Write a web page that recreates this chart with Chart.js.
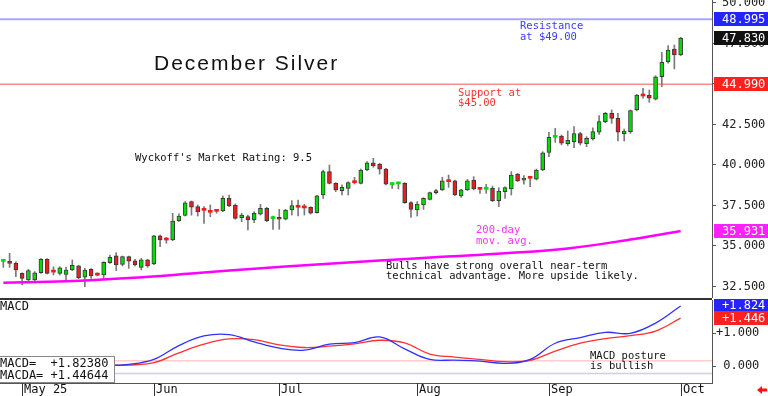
<!DOCTYPE html>
<html>
<head>
<meta charset="utf-8">
<script src="https://cdn.jsdelivr.net/npm/chart.js@4.4.1/dist/chart.umd.min.js"></script>
<style>
  html, body { margin: 0; background: #fff; }
  #wrap { position: relative; width: 768px; height: 396px; overflow: hidden; }
  canvas { position: absolute; left: 0; }
</style>
</head>
<body>
<div id="wrap">
  <canvas id="price" width="768" height="298" style="top:0"></canvas>
  <canvas id="macd" width="768" height="98" style="top:298px"></canvas>
</div>
<script>
// daily bars, Apr 28 .. Oct 1 (index = trading day)
const opens = [34.05, 34.07, 33.93, 33.31, 32.9, 32.9, 33.35, 34.18, 33.43, 33.31,
  33.25, 33.52, 33.77, 33.07, 33.56, 33.27, 33.21, 33.97, 34.4, 33.87,
  34.34, 34.09, 33.68, 34.14, 33.89, 35.62, 35.47, 35.37, 36.56, 36.89,
  37.74, 37.43, 37.25, 37.16, 37.18, 37.16, 37.94, 37.53, 36.75, 36.81,
  36.61, 36.97, 37.33, 36.69, 36.77, 36.65, 37.22, 37.45, 37.41, 37.39,
  37.06, 38.15, 39.59, 38.87, 38.42, 38.56, 38.95, 38.87, 39.69, 40.14,
  40.06, 39.75, 38.79, 38.83, 38.87, 37.68, 37.22, 37.53, 37.88, 38.29,
  38.46, 39.07, 39.03, 38.09, 38.46, 39.07, 38.54, 38.5, 38.56, 37.8,
  38.35, 38.52, 39.44, 39.07, 39.22, 39.13, 39.69, 40.78, 41.71, 41.79,
  41.32, 41.44, 41.94, 41.32, 41.61, 42.02, 42.68, 43.19, 42.88, 41.94,
  42.06, 43.4, 44.32, 44.3, 44.07, 45.45, 46.38, 47.16, 46.79];
const highs = [34.18, 34.55, 34.03, 33.35, 33.56, 33.42, 34.22, 34.22, 33.72, 33.72,
  33.68, 34.14, 33.81, 33.62, 33.6, 33.35, 34.03, 34.44, 34.59, 34.38,
  34.38, 34.18, 34.24, 34.18, 35.66, 35.68, 35.53, 37.02, 36.98, 37.74,
  37.78, 37.53, 37.43, 37.53, 37.26, 38.09, 38.15, 37.6, 37.02, 36.91,
  37.12, 37.57, 37.39, 36.85, 37.26, 37.26, 37.8, 37.84, 37.57, 37.43,
  38.13, 39.69, 40.0, 38.91, 38.77, 38.97, 39.24, 39.75, 40.21, 40.41,
  40.1, 39.79, 38.91, 38.95, 38.91, 37.74, 37.74, 37.98, 38.33, 38.5,
  39.24, 39.38, 39.07, 38.5, 39.11, 39.28, 38.6, 38.81, 38.7, 38.6,
  38.66, 39.59, 39.48, 39.34, 39.28, 39.75, 40.82, 42.02, 42.26, 41.85,
  42.1, 42.37, 42.02, 41.75, 42.3, 43.05, 43.25, 43.4, 43.19, 42.22,
  43.4, 44.36, 44.73, 44.63, 45.51, 46.95, 47.37, 47.41, 47.88];
const lows = [33.68, 33.68, 33.11, 32.6, 32.86, 32.86, 33.31, 33.27, 33.21, 33.21,
  32.8, 33.48, 32.98, 32.49, 33.0, 33.15, 32.94, 33.93, 33.48, 33.77,
  33.62, 33.77, 33.52, 33.68, 33.85, 34.96, 35.17, 35.33, 36.52, 36.85,
  36.9, 36.85, 36.4, 36.81, 37.02, 37.12, 37.43, 36.65, 36.5, 35.99,
  36.44, 36.91, 36.5, 36.03, 36.03, 36.61, 36.91, 36.85, 36.91, 36.97,
  37.02, 37.94, 38.83, 38.35, 38.15, 38.15, 38.83, 38.83, 39.65, 39.86,
  39.44, 38.77, 38.56, 38.52, 37.63, 36.77, 36.85, 37.26, 37.84, 38.21,
  38.42, 38.62, 38.11, 38.0, 38.42, 38.46, 38.25, 38.25, 37.74, 37.43,
  37.94, 38.15, 38.97, 38.81, 38.66, 39.07, 39.65, 40.51, 41.4, 41.24,
  41.2, 41.07, 41.24, 41.13, 41.54, 41.89, 42.61, 42.57, 41.48, 41.48,
  41.95, 43.34, 44.12, 43.87, 44.01, 44.83, 46.28, 45.93, 46.75];
const closes = [34.1, 33.93, 33.52, 33.0, 33.48, 33.35, 34.18, 33.31, 33.39, 33.66,
  33.52, 33.81, 33.05, 33.52, 33.15, 33.2, 33.99, 34.3, 33.83, 34.34,
  34.07, 33.83, 34.14, 33.77, 35.62, 35.37, 35.37, 36.54, 36.85, 37.67,
  37.39, 37.12, 37.2, 37.08, 37.14, 37.94, 37.47, 36.71, 36.91, 36.61,
  37.02, 37.33, 36.56, 36.75, 36.65, 37.22, 37.49, 37.39, 37.35, 37.02,
  38.09, 39.59, 38.87, 38.46, 38.62, 38.91, 38.91, 39.69, 40.14, 39.94,
  39.75, 38.81, 38.85, 38.87, 37.68, 37.26, 37.59, 37.94, 38.29, 38.42,
  39.03, 38.97, 38.15, 38.46, 39.03, 38.52, 38.5, 38.54, 37.8, 38.39,
  38.6, 39.38, 39.01, 39.2, 39.18, 39.69, 40.75, 41.71, 41.81, 41.34,
  41.52, 41.94, 41.34, 41.65, 42.06, 42.68, 43.19, 42.88, 42.02, 42.1,
  43.36, 44.32, 44.26, 44.12, 45.45, 46.34, 47.1, 46.79, 47.83];

// 200-day moving average, read every 10 bars
const maIdx = [0, 10, 20, 30, 40, 50, 60, 70, 80, 90, 100, 108];
const maVals = [32.73, 32.82, 33.02, 33.3, 33.6, 33.86, 34.1, 34.33, 34.55, 34.85, 35.4, 35.93];

// MACD / signal, read every 4 bars
const macdIdx = [0, 4, 8, 12, 16, 20, 24, 28, 32, 36, 40, 44, 48, 52, 56, 60, 64, 68, 72, 76, 80, 84, 88, 92, 96, 100, 104, 108];
const macdVals = [0.0, 0.02, 0.03, 0.02, 0.02, 0.05, 0.2, 0.62, 0.91, 0.95, 0.73, 0.54, 0.48, 0.66, 0.71, 0.88, 0.52, 0.2, 0.18, 0.15, 0.08, 0.2, 0.69, 0.86, 1.02, 0.99, 1.3, 1.82];
const macdaVals = [0.0, 0.0, 0.01, 0.02, 0.02, 0.03, 0.1, 0.4, 0.66, 0.82, 0.8, 0.64, 0.56, 0.6, 0.67, 0.78, 0.7, 0.36, 0.27, 0.2, 0.13, 0.17, 0.45, 0.69, 0.83, 0.92, 1.06, 1.45];

const priceTicks = [32.5, 35, 37.5, 40, 42.5, 45, 47.5, 50];
const macdTicks = [0, 1];
const monthIdx = [3, 24, 44, 66, 87, 108];
const monthLabels = ['May 25', 'Jun', 'Jul', 'Aug', 'Sep', 'Oct'];

const resistance = 48.995;
const support = 44.99;
const lastClose = 47.83;
const lastMa = 35.931;
const lastMacd = 1.8238;
const lastMacda = 1.44644;
const macdUpper = 0.16;
const macdLower = -0.23;

const xMin = -0.53;
const xMax = 113;
const mono = "'DejaVu Sans Mono', monospace";
const RED = '#ee1c1c';
const GREEN = '#00dd00';

const hline = (y, color, width) => ({
  type: 'line',
  data: [{ x: xMin, y }, { x: xMax, y }],
  borderColor: color,
  borderWidth: width,
  pointRadius: 0,
  order: 5,
});

// right axis: fixed width, no extra room for the end labels
const fitAxis = (axis) => {
  axis.width = 56;
  axis.paddingTop = 0;
  axis.paddingBottom = 0;
};

function tag(ctx, y, bg, txt) {
  ctx.fillStyle = bg;
  ctx.fillRect(714, Math.round(y) - 7, 54, 14);
  ctx.fillStyle = '#fff';
  ctx.fillText(txt, 722, y + 0.5);
}

function texts(ctx, lines, x, y0, gap, color) {
  ctx.fillStyle = color;
  lines.forEach((t, k) => ctx.fillText(t, x, y0 + k * gap));
}

const priceDecor = {
  id: 'priceDecor',
  afterDraw(chart) {
    const { ctx, scales: { y } } = chart;
    ctx.save();
    ctx.textBaseline = 'middle';
    ctx.textAlign = 'left';
    ctx.font = '12px ' + mono;
    tag(ctx, y.getPixelForValue(resistance), '#2424ff', resistance.toFixed(3));
    tag(ctx, y.getPixelForValue(lastClose), '#111', lastClose.toFixed(3));
    tag(ctx, y.getPixelForValue(support), '#ff2020', support.toFixed(3));
    tag(ctx, y.getPixelForValue(lastMa), '#ff20ff', lastMa.toFixed(3));

    ctx.font = '10.5px ' + mono;
    texts(ctx, ['Resistance', 'at $49.00'], 520, 26.5, 10.5, '#3a3aff');
    texts(ctx, ['Support at', '$45.00'], 458, 93, 10.5, '#ff3030');
    texts(ctx, ["Wyckoff's Market Rating: 9.5"], 135, 158, 0, '#111');
    texts(ctx, ['200-day', 'mov. avg.'], 476, 230, 11, '#ff30ff');
    texts(ctx, ['Bulls have strong overall near-term', 'technical advantage. More upside likely.'], 386, 266, 10.5, '#111');

    ctx.font = "21px 'Liberation Sans', Arial, sans-serif";
    ctx.letterSpacing = '2px';
    ctx.textBaseline = 'alphabetic';
    ctx.fillStyle = '#111';
    ctx.fillText('December Silver', 154, 70);
    ctx.restore();
  },
};

new Chart(document.getElementById('price'), {
  type: 'bar',
  data: {
    datasets: [
      {
        type: 'bar',
        data: highs.map((h, i) => ({ x: i, y: [lows[i], h] })),
        backgroundColor: '#7a7a7a',
        barThickness: 1,
        grouped: false,
        order: 3,
      },
      {
        type: 'bar',
        data: opens.map((o, i) => ({ x: i, y: [o, closes[i]] })),
        backgroundColor: opens.map((o, i) => (closes[i] >= o ? GREEN : RED)),
        borderColor: '#3a3a3a',
        borderWidth: opens.map((o, i) => (Math.abs(closes[i] - o) < 0.12 ? 0 : 1)),
        borderSkipped: false,
        barThickness: 4,
        minBarLength: 2,
        grouped: false,
        order: 2,
      },
      {
        type: 'line',
        data: maIdx.map((x, k) => ({ x, y: maVals[k] })),
        borderColor: '#ff00ff',
        borderWidth: 2.5,
        pointRadius: 0,
        tension: 0.4,
        order: 1,
      },
      hline(resistance, '#a6a6ff', 2),
      hline(support, '#ff8a8a', 1.5),
    ],
  },
  options: {
    responsive: false,
    devicePixelRatio: 1,
    animation: false,
    layout: { padding: 0 },
    scales: {
      x: { type: 'linear', min: xMin, max: xMax, display: false, offset: false },
      y: {
        position: 'right',
        min: 31.79,
        max: 50.185,
        afterFit: fitAxis,
        afterBuildTicks: (axis) => { axis.ticks = priceTicks.map((v) => ({ value: v })); },
        grid: { drawOnChartArea: false, tickLength: 4, color: '#555' },
        border: { color: '#555' },
        ticks: {
          font: { family: mono, size: 12 },
          color: '#222',
          padding: 6,
          callback: (v) => v.toFixed(3),
        },
      },
    },
    plugins: { legend: { display: false }, tooltip: { enabled: false } },
  },
  plugins: [priceDecor],
});

function macdPoints(vals) {
  return macdIdx.map((x, k) => ({ x, y: vals[k] }));
}

const macdDecor = {
  id: 'macdDecor',
  afterDraw(chart) {
    const { ctx, chartArea: { bottom, right }, scales: { x, y } } = chart;
    ctx.save();
    ctx.fillStyle = '#333';
    ctx.fillRect(0, 0, right, 2);
    ctx.fillStyle = '#555';
    ctx.fillRect(0, bottom, right, 1);

    ctx.textBaseline = 'middle';
    ctx.font = '12px ' + mono;
    ctx.fillStyle = '#111';
    ctx.fillText('MACD', 0, 9);

    // value box
    ctx.fillStyle = '#fff';
    ctx.fillRect(0, 58, 114, 26);
    ctx.strokeStyle = '#888';
    ctx.lineWidth = 1;
    ctx.strokeRect(-0.5, 58.5, 115, 26);
    ctx.fillStyle = '#111';
    ctx.fillText('MACD=  +' + lastMacd.toFixed(5), 0, 66);
    ctx.fillText('MACDA= +' + lastMacda.toFixed(5), 0, 77.5);

    tag(ctx, y.getPixelForValue(1.824), '#2424ff', '+' + lastMacd.toFixed(3));
    tag(ctx, y.getPixelForValue(1.446), '#ff2020', '+' + lastMacda.toFixed(3));

    ctx.font = '10.5px ' + mono;
    texts(ctx, ['MACD posture', 'is bullish'], 590, 58, 10, '#111');

    // month ticks
    ctx.font = '12px ' + mono;
    ctx.strokeStyle = '#333';
    monthIdx.forEach((idx, k) => {
      const px = Math.round(x.getPixelForValue(idx)) + 0.5;
      ctx.beginPath();
      ctx.moveTo(px, bottom);
      ctx.lineTo(px, chart.height);
      ctx.stroke();
      ctx.fillStyle = '#111';
      ctx.fillText(monthLabels[k], px + 1.5, 92);
    });

    // little red arrow bottom right
    ctx.fillStyle = '#ff1010';
    ctx.beginPath();
    ctx.moveTo(757, 92);
    ctx.lineTo(762, 88);
    ctx.lineTo(762, 90.5);
    ctx.lineTo(767, 90.5);
    ctx.lineTo(767, 93.5);
    ctx.lineTo(762, 93.5);
    ctx.lineTo(762, 96);
    ctx.closePath();
    ctx.fill();
    ctx.restore();
  },
};

new Chart(document.getElementById('macd'), {
  type: 'line',
  data: {
    datasets: [
      hline(macdUpper, '#ffcccc', 1.5),
      hline(macdLower, '#ccccff', 1.5),
      {
        data: macdPoints(macdaVals),
        borderColor: '#ff3030',
        borderWidth: 1.3,
        pointRadius: 0,
        tension: 0.4,
        order: 2,
      },
      {
        data: macdPoints(macdVals),
        borderColor: '#3030ff',
        borderWidth: 1.3,
        pointRadius: 0,
        tension: 0.4,
        order: 1,
      },
    ],
  },
  options: {
    responsive: false,
    devicePixelRatio: 1,
    animation: false,
    layout: { padding: { top: 2, bottom: 13 } },
    scales: {
      x: { type: 'linear', min: xMin, max: xMax, display: false },
      y: {
        position: 'right',
        min: -0.515,
        max: 2.0,
        afterFit: fitAxis,
        afterBuildTicks: (axis) => { axis.ticks = macdTicks.map((v) => ({ value: v })); },
        grid: { drawOnChartArea: false, tickLength: 4, color: '#555' },
        border: { color: '#555' },
        ticks: {
          font: { family: mono, size: 12 },
          color: '#222',
          padding: 0,
          callback: (v) => (v > 0 ? '+' : ' ') + v.toFixed(3),
        },
      },
    },
    plugins: { legend: { display: false }, tooltip: { enabled: false } },
  },
  plugins: [macdDecor],
});
</script>
</body>
</html>
